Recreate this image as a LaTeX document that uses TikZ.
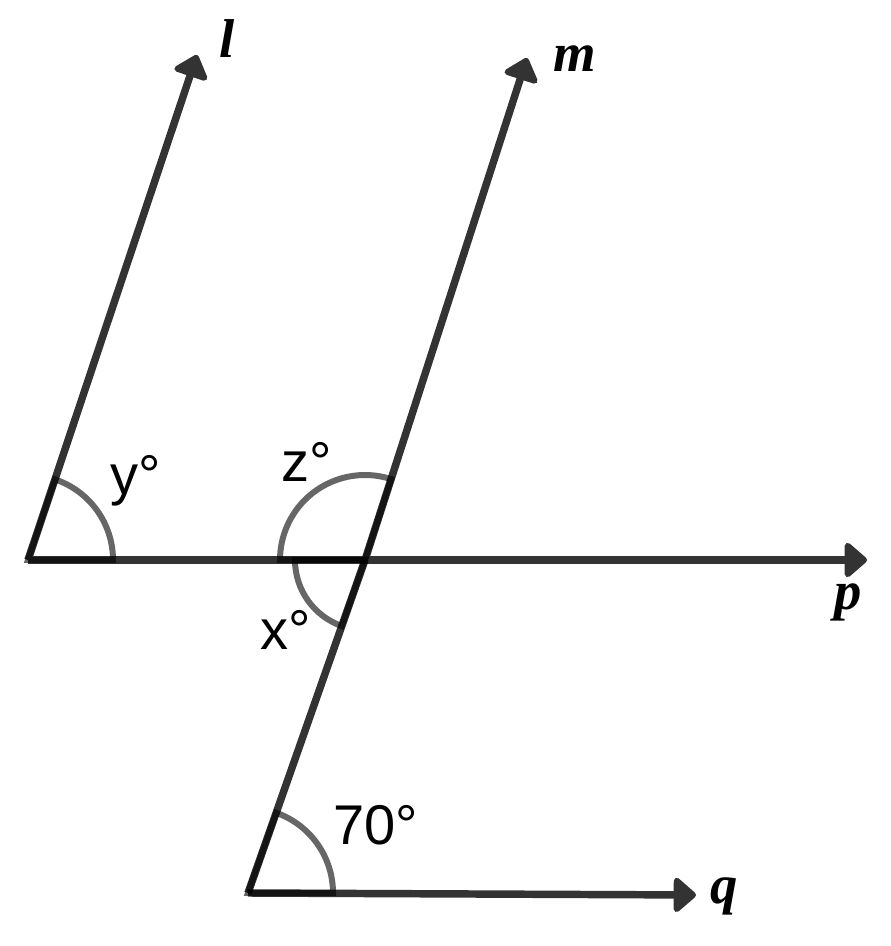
\documentclass[tikz,border=0pt]{standalone}
\usepackage{fontspec}
\newfontfamily\serlab{Liberation Serif}
\newfontfamily\deglab{Liberation Sans}
\usetikzlibrary{arrows.meta}

\begin{document}
\begin{tikzpicture}[x=0.75pt, y=0.75pt,
		ln/.style={draw=black!80, line width=5.6pt},
		tip/.style={-{Triangle[round, length=18pt, width=30pt]}},
		ang/.style={draw=black!60, line width=4.5pt, blend mode=multiply},
		nm/.style={font=\serlab\bfseries\itshape\fontsize{41}{44}\selectfont, inner sep=0pt, anchor=base},
		dg/.style={font=\deglab\fontsize{42}{44}\selectfont, inner sep=0pt, anchor=base west}]
		\useasboundingbox (0,0) rectangle (890,946);

		\coordinate (A) at (28,386);
		\coordinate (O) at (365,386);
		\coordinate (B) at (248,53);
		\coordinate (L) at (197,891);
		\coordinate (M) at (527,888);
		\coordinate (P) at (867,386);
		\coordinate (Q) at (696,51);

		\path (A) edge[ln, tip] (L);
		\path (A) edge[ln, tip] (P);
		\path (O) edge[ln, tip] (M);
		\path (B) edge[ln, tip] (Q);
		\path (B) edge[ln, blend mode=multiply] (O);

		\draw[ang] (A) -- ++(0:85) arc[start angle=0, end angle=71.5, radius=85] -- cycle;
		\draw[ang] (O) -- ++(72.1:85) arc[start angle=72.1, end angle=180, radius=85] -- cycle;
		\draw[ang] (O) -- ++(180:70) arc[start angle=180, end angle=250.6, radius=70] -- cycle;
		\draw[ang] (B) -- ++(0:85) arc[start angle=0, end angle=70.6, radius=85] -- cycle;

		\node[nm] (l) at (227,888) {l};
		\node[nm] (m) at (575,874) {m};
		\node[nm] (p) at (848,336) {p};
		\node[nm] (q) at (724,42) {q};

		\node[dg] (y) at (110,451) {y°};
		\node[dg] (z) at (281,464) {z°};
		\node[dg] (x) at (260,296) {x°};
		\node[dg] (s) at (333,101) {70°};
	\end{tikzpicture}
\end{document}
